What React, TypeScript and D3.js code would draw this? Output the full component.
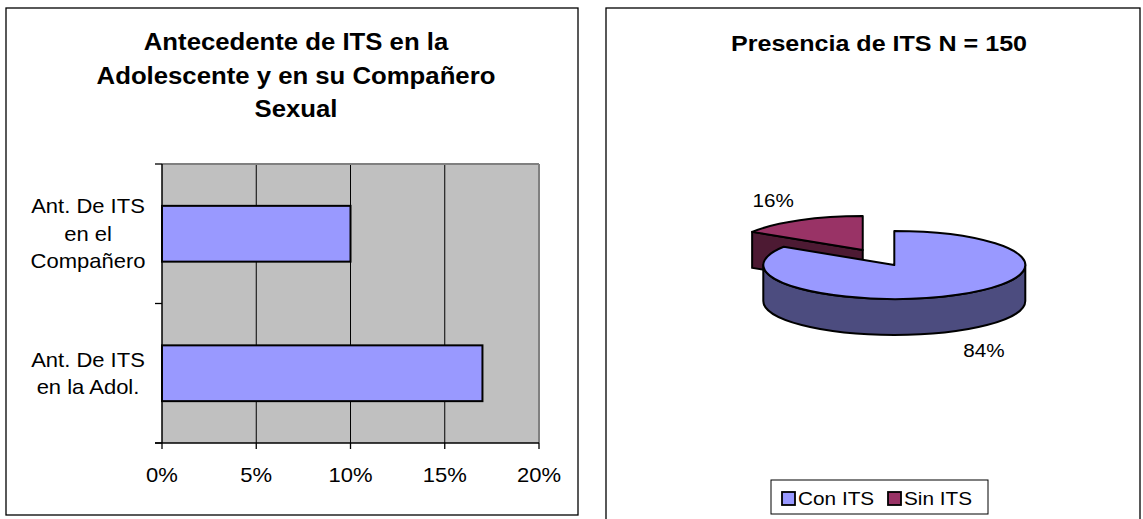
import React from "react";
import * as d3 from "d3";

// ---------- data ----------
const barCategories = ["Compañero", "Adol"];
const barLabelLines = [
  ["Ant. De ITS", "en el", "Compañero"],
  ["Ant. De ITS", "en la Adol."],
];
const barValues = [0.1, 0.17];
const xTicks = [0, 0.05, 0.1, 0.15, 0.2];
const xTickLabels = ["0%", "5%", "10%", "15%", "20%"];

const pieLabels = ["Con ITS", "Sin ITS"];
const pieValues = [84, 16];
const pieTopColors = ["#9999FF", "#993366"];
const pieSideColors = ["#4C4C7F", "#4D1A33"];
const pieExplode = [0, 0.5];

const FONT = "'Liberation Sans', Arial, Helvetica, sans-serif";
const SX = 1.1;

function T({ x, y, size, bold, anchor = "middle", children }: any) {
  return (
    <text
      transform={`translate(${x},${y}) scale(${SX},1)`}
      fontFamily={FONT}
      fontSize={size}
      fontWeight={bold ? "bold" : "normal"}
      textAnchor={anchor}
      fill="#000"
    >
      {children}
    </text>
  );
}

function BarPanel() {
  const left = 162, right = 539, top = 164, bottom = 443;
  const x = d3.scaleLinear().domain([0, 0.2]).range([left, right]);
  const y = d3.scaleBand().domain(barCategories).range([top, bottom]).padding(0);
  const bw = y.bandwidth();
  const barH = bw * 0.4;
  return (
    <g>
      <rect x={6} y={8} width={572} height={507} fill="#fff" stroke="#000" strokeWidth={1.3} />
      <T x={296} y={50} size={23.4} bold>Antecedente de ITS en la</T>
      <T x={296} y={84} size={23.4} bold>Adolescente y en su Compañero</T>
      <T x={296} y={117} size={23.4} bold>Sexual</T>
      <rect x={left} y={top} width={right - left} height={bottom - top} fill="#C0C0C0" />
      {xTicks.slice(1, -1).map((t) => (
        <line key={t} x1={x(t)} x2={x(t)} y1={top} y2={bottom} stroke="#000" strokeWidth={1} />
      ))}
      <line x1={left} x2={right} y1={top} y2={top} stroke="#808080" strokeWidth={2} />
      <line x1={right} x2={right} y1={top} y2={bottom} stroke="#808080" strokeWidth={2} />
      {barCategories.map((c, i) => {
        const yc = (y(c) as number) + bw / 2;
        return (
          <rect
            key={c}
            x={x(0)}
            y={yc - barH / 2}
            width={x(barValues[i]) - x(0)}
            height={barH}
            fill="#9999FF"
            stroke="#000"
            strokeWidth={2}
          />
        );
      })}
      <line x1={left} x2={left} y1={top} y2={bottom} stroke="#000" strokeWidth={1.5} />
      <line x1={left - 7} x2={right} y1={bottom} y2={bottom} stroke="#000" strokeWidth={1.5} />
      {[top, top + bw, bottom].map((v, i) => (
        <line key={i} x1={left - 7} x2={left} y1={v} y2={v} stroke="#000" strokeWidth={1.3} />
      ))}
      {xTicks.map((t, i) => (
        <g key={t}>
          <line x1={x(t)} x2={x(t)} y1={bottom} y2={bottom + 6} stroke="#000" strokeWidth={1.3} />
          <T x={x(t)} y={482} size={20}>{xTickLabels[i]}</T>
        </g>
      ))}
      {barCategories.map((c, i) => {
        const lines = barLabelLines[i];
        const yc = (y(c) as number) + bw / 2;
        const lh = 27.5;
        const y0 = yc - ((lines.length - 1) * lh) / 2 + 7;
        return lines.map((ln, j) => (
          <T key={c + j} x={88} y={y0 + j * lh} size={20}>{ln}</T>
        ));
      })}
    </g>
  );
}

function PiePanel() {
  const cx = 894.3, cy = 265, rx = 131, ry = 34, depth = 36;
  const arcs = d3.pie<number>().sort(null).startAngle(0).endAngle(2 * Math.PI)(pieValues);
  const pt = (ox: number, oy: number, a: number) => [ox + rx * Math.sin(a), oy - ry * Math.cos(a)];
  const slices = arcs.map((a, i) => {
    const mid = (a.startAngle + a.endAngle) / 2;
    const ox = cx + rx * pieExplode[i] * Math.sin(mid);
    const oy = cy - ry * pieExplode[i] * Math.cos(mid);
    return { a, i, mid, ox, oy };
  });
  const topPath = (s: any) => {
    const [x0, y0] = pt(s.ox, s.oy, s.a.startAngle);
    const [x1, y1] = pt(s.ox, s.oy, s.a.endAngle);
    const large = s.a.endAngle - s.a.startAngle > Math.PI ? 1 : 0;
    return `M${s.ox},${s.oy}L${x0},${y0}A${rx},${ry} 0 ${large} 1 ${x1},${y1}Z`;
  };
  const wallPath = (s: any) => {
    const a0 = Math.max(s.a.startAngle, Math.PI / 2);
    const a1 = Math.min(s.a.endAngle, (3 * Math.PI) / 2);
    if (a1 <= a0) return null;
    const [x0, y0] = pt(s.ox, s.oy, a0);
    const [x1, y1] = pt(s.ox, s.oy, a1);
    return `M${x0},${y0}A${rx},${ry} 0 0 1 ${x1},${y1}L${x1},${y1 + depth}A${rx},${ry} 0 0 0 ${x0},${y0 + depth}Z`;
  };
  const radialFace = (s: any, ang: number) => {
    const [x0, y0] = pt(s.ox, s.oy, ang);
    return `M${s.ox},${s.oy}L${x0},${y0}L${x0},${y0 + depth}L${s.ox},${s.oy + depth}Z`;
  };
  const order = [1, 0];
  return (
    <g>
      <rect x={606} y={8} width={534} height={520} fill="#fff" stroke="#000" strokeWidth={1.3} />
      <T x={879} y={51} size={22.8} bold>Presencia de ITS N = 150</T>
      {order.map((k) => {
        const s = slices[k];
        const wall = wallPath(s);
        const sa = s.a.startAngle;
        const showStartFace = sa > Math.PI;
        return (
          <g key={k}>
            {showStartFace && (
              <path d={radialFace(s, sa)} fill={pieSideColors[k]} stroke="#000" strokeWidth={2} strokeLinejoin="round" />
            )}
            {wall && <path d={wall} fill={pieSideColors[k]} stroke="#000" strokeWidth={2} strokeLinejoin="round" />}
            <path d={topPath(s)} fill={pieTopColors[k]} stroke="#000" strokeWidth={2} strokeLinejoin="round" />
          </g>
        );
      })}
      {slices.map((s) => {
        const front = Math.cos(s.mid) < 0;
        const lx = s.ox + rx * 1.42 * Math.sin(s.mid);
        const ly = s.oy - ry * 1.65 * Math.cos(s.mid) + (front ? depth : 0);
        return (
          <T key={"l" + s.i} x={lx} y={ly + 6.5} size={18.8}>
            {Math.round((s.a.value / d3.sum(pieValues)) * 100) + "%"}
          </T>
        );
      })}
      <rect x={771} y={480} width={217} height={34} fill="#fff" stroke="#000" strokeWidth={1} />
      {pieLabels.map((l, i) => {
        const bx = i === 0 ? 782 : 888;
        return (
          <g key={l}>
            <rect x={bx} y={492} width={13} height={13} fill={pieTopColors[i]} stroke="#000" strokeWidth={1.8} />
            <T x={bx + 16} y={505} size={18.9} anchor="start">{l}</T>
          </g>
        );
      })}
    </g>
  );
}

export default function App() {
  return (
    <svg width={1143} height={519} style={{ position: "absolute", left: 0, top: 0 }}>
      <rect width={1143} height={519} fill="#fff" />
      <BarPanel />
      <PiePanel />
    </svg>
  );
}
